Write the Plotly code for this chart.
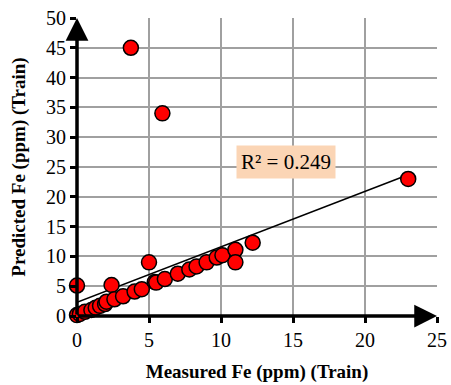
import plotly.graph_objects as go

measured = [0, 0, 0.2, 0.55, 1.0, 1.3, 1.6, 1.95, 2.05, 2.4, 2.6, 3.2, 3.74, 4.0, 4.5,
            5.0, 5.4, 5.5, 5.93, 6.1, 7.0, 7.8, 8.3, 9.0, 9.7, 10.1, 11.0, 11.0, 12.2, 23.0]
predicted = [0.15, 5.1, 0.35, 0.7, 1.0, 1.4, 1.7, 2.0, 2.4, 5.2, 2.8, 3.3, 45.0, 4.1, 4.5,
             9.0, 5.7, 5.6, 34.0, 6.2, 7.1, 7.8, 8.3, 9.0, 9.8, 10.2, 11.1, 9.0, 12.3, 23.0]
trend_slope = 0.93
trend_intercept = 2.3
r2_label = "R² = 0.249"
x_ticks = [0, 5, 10, 15, 20, 25]
y_ticks = [0, 5, 10, 15, 20, 25, 30, 35, 40, 45, 50]

x_fit = [min(measured), max(measured)]
y_fit = [trend_intercept + trend_slope * v for v in x_fit]

font_family = "Times New Roman, Liberation Serif, serif"

fig = go.Figure()
fig.add_trace(go.Scatter(x=x_fit, y=y_fit, mode="lines",
                         line=dict(color="black", width=1.5), showlegend=False,
                         cliponaxis=False))
fig.add_trace(go.Scatter(x=measured, y=predicted, mode="markers",
                         marker=dict(color="#FF0000", size=15,
                                     line=dict(color="black", width=1.5)),
                         showlegend=False, cliponaxis=False))

# axis arrows
fig.add_annotation(x=25, y=0, ax=0, ay=0, xref="x", yref="y", axref="x", ayref="y",
                   showarrow=True, arrowhead=2, arrowsize=1.3, arrowwidth=3.5,
                   arrowcolor="black", text="", standoff=0)
fig.add_annotation(x=0, y=50, ax=0, ay=0, xref="x", yref="y", axref="x", ayref="y",
                   showarrow=True, arrowhead=2, arrowsize=1.3, arrowwidth=3.5,
                   arrowcolor="black", text="", standoff=0)

fig.add_annotation(x=14.5, y=25.9, xref="x", yref="y", text=r2_label, showarrow=False,
                   bgcolor="#FBD5B5", font=dict(family=font_family, size=21, color="black"),
                   borderpad=4)

fig.update_layout(
    width=451, height=385,
    margin=dict(l=77, r=14, t=18, b=69, autoexpand=False),
    paper_bgcolor="white", plot_bgcolor="white",
    font=dict(family=font_family, size=20, color="black"),
    xaxis=dict(range=[0, 25], tickvals=x_ticks, showgrid=True, gridcolor="#A0A0A0",
               gridwidth=1.5, zeroline=False, showline=False, ticks="outside",
               ticklen=6, tickwidth=2.5, tickcolor="black",
               title=dict(text="<b>Measured Fe (ppm) (Train)</b>",
                          font=dict(family=font_family, size=19), standoff=14),
               tickfont=dict(family=font_family, size=20, color="black")),
    yaxis=dict(range=[0, 50], tickvals=y_ticks, showgrid=True, gridcolor="#A0A0A0",
               gridwidth=1.5, zeroline=False, showline=False, ticks="outside",
               ticklen=6, tickwidth=2.5, tickcolor="black",
               title=dict(text="<b>Predicted Fe (ppm) (Train)</b>",
                          font=dict(family=font_family, size=19), standoff=15),
               tickfont=dict(family=font_family, size=20, color="black")),
)

fig.write_html("out.html")
